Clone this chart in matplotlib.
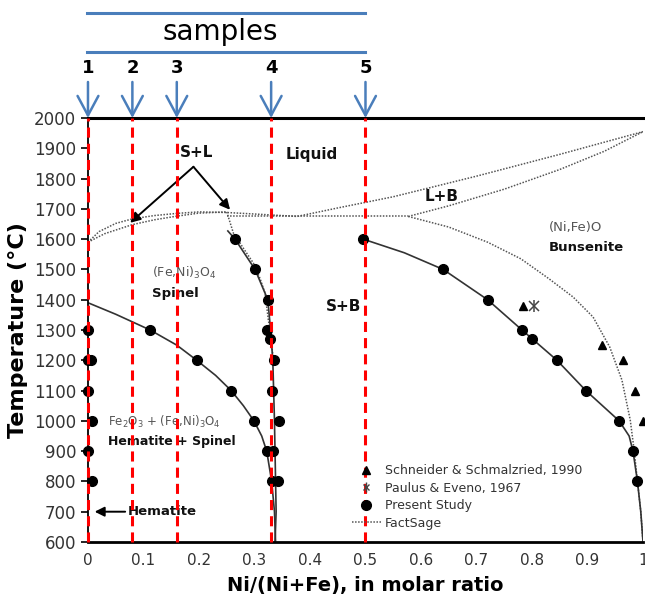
import matplotlib.pyplot as plt
from matplotlib.lines import Line2D

# sample compositions marked above the chart
sample_x = [0.0, 0.08, 0.16, 0.33, 0.5]
sample_labels = ["1", "2", "3", "4", "5"]

# Present Study (circles)
study_x = [0.0, 0.0, 0.006, 0.0, 0.007, 0.0, 0.007,
           0.112, 0.196, 0.258, 0.299, 0.322, 0.331,
           0.265, 0.301, 0.324, 0.322, 0.328, 0.335, 0.331, 0.345, 0.333, 0.343,
           0.496, 0.64, 0.72, 0.782, 0.80, 0.845, 0.897, 0.957, 0.982, 0.99]
study_t = [1300, 1200, 1200, 1100, 1000, 900, 800,
           1300, 1200, 1100, 1000, 900, 800,
           1600, 1500, 1400, 1300, 1270, 1200, 1100, 1000, 900, 800,
           1600, 1500, 1400, 1300, 1270, 1200, 1100, 1000, 900, 800]

# Schneider & Schmalzried, 1990 (triangles)
schn_x = [0.784, 0.926, 0.964, 0.985, 1.0]
schn_t = [1380, 1250, 1200, 1100, 1000]

# Paulus & Eveno, 1967
paul_x = [0.804]
paul_t = [1380]

# solid phase boundaries (present study)
hem_x = [0.0, 0.05, 0.112, 0.16, 0.196, 0.23, 0.258, 0.28, 0.299, 0.313, 0.322, 0.331, 0.336, 0.338]
hem_t = [1390, 1352, 1300, 1250, 1200, 1150, 1100, 1050, 1000, 950, 900, 800, 700, 600]
spn_x = [0.252, 0.265, 0.301, 0.324, 0.329, 0.333, 0.336, 0.338, 0.339, 0.337]
spn_t = [1627, 1600, 1500, 1400, 1300, 1200, 1000, 800, 700, 600]
bun_x = [0.496, 0.57, 0.64, 0.72, 0.782, 0.845, 0.897, 0.957, 0.975, 0.982, 0.99, 0.996, 1.0]
bun_t = [1600, 1555, 1500, 1400, 1300, 1200, 1100, 1000, 950, 900, 800, 700, 600]

# FactSage curves (dotted)
liq_x = [0, 0.02, 0.05, 0.08, 0.12, 0.16, 0.2, 0.25, 0.3, 0.377, 0.45, 0.55, 0.7, 0.85, 1.0]
liq_t = [1590, 1625, 1652, 1667, 1678, 1685, 1690, 1688, 1683, 1675, 1703, 1740, 1808, 1880, 1955]
sol_x = [0, 0.03, 0.08, 0.12, 0.16, 0.2, 0.25]
sol_t = [1590, 1618, 1648, 1664, 1676, 1686, 1690]
svs_x = [0.25, 0.262, 0.28, 0.298, 0.31, 0.319, 0.325, 0.33, 0.334]
svs_t = [1690, 1620, 1570, 1521, 1470, 1422, 1333, 1270, 1200]
eut_x = [0.25, 0.577]
eut_t = [1675, 1675]
bsol_x = [0.577, 0.65, 0.75, 0.85, 0.93, 1.0]
bsol_t = [1675, 1710, 1765, 1830, 1890, 1955]
bsvs_x = [0.577, 0.65, 0.72, 0.78, 0.83, 0.874, 0.91, 0.94, 0.962, 0.977, 0.984, 0.99, 0.996, 1.0]
bsvs_t = [1675, 1640, 1590, 1535, 1470, 1409, 1343, 1244, 1135, 1003, 904, 800, 700, 600]

blue = "#4A7EBB"
dot = dict(color="#555555", lw=1.1, ls=(0, (1, 1)))
solid = dict(color="#333333", lw=1.2)

fig = plt.figure(figsize=(6.45, 6), dpi=100)
ax = fig.add_axes([0.1364, 0.0967, 0.8605, 0.7066])

for xs, ts in [(liq_x, liq_t), (sol_x, sol_t), (svs_x, svs_t), (eut_x, eut_t),
               (bsol_x, bsol_t), (bsvs_x, bsvs_t)]:
    ax.plot(xs, ts, **dot)
for xs, ts in [(hem_x, hem_t), (spn_x, spn_t), (bun_x, bun_t)]:
    ax.plot(xs, ts, **solid)

ax.plot(study_x, study_t, "o", color="black", ms=7, clip_on=False, zorder=3)
ax.plot(schn_x, schn_t, "^", color="black", ms=6, clip_on=False, zorder=3)
ax.plot(paul_x, paul_t, "x", color="#444444", ms=7, mew=1.1, zorder=3)
ax.plot(paul_x, paul_t, "|", color="#444444", ms=9, mew=1.1, zorder=3)

# red dashed sample lines
for x in sample_x:
    ax.plot([x, x], [600, 2000], color="red", lw=2.2, dashes=(3.3, 2.0), zorder=5, clip_on=False)

# samples annotation above the axes
for x, lab in zip(sample_x, sample_labels):
    ax.annotate("", xy=(x, 2000), xytext=(x, 2119),
                arrowprops=dict(arrowstyle="->,head_length=1.4,head_width=0.75", color=blue,
                                lw=1.8, shrinkA=0, shrinkB=0, mutation_scale=10),
                annotation_clip=False, zorder=6)
    ax.text(x, 2165, lab, ha="center", va="center", fontsize=13, fontweight="bold")
ax.plot([-0.002, 0.5], [2218, 2218], color=blue, lw=2.2, clip_on=False)
ax.plot([-0.002, 0.5], [2347, 2347], color=blue, lw=2.2, clip_on=False)
ax.text(0.238, 2284, "samples", ha="center", va="center", fontsize=20)

# region labels
bold = dict(fontweight="bold", color="#111111")
ax.text(0.196, 1885, "S+L", ha="center", va="center", fontsize=11, **bold)
ax.text(0.404, 1878, "Liquid", ha="center", va="center", fontsize=11, **bold)
ax.text(0.638, 1740, "L+B", ha="center", va="center", fontsize=11, **bold)
ax.text(0.46, 1378, "S+B", ha="center", va="center", fontsize=11, **bold)
ax.text(0.83, 1637, "(Ni,Fe)O", ha="left", va="center", fontsize=9.5, color="#555555")
ax.text(0.83, 1574, "Bunsenite", ha="left", va="center", fontsize=9.5, **bold)
ax.text(0.115, 1488, "(Fe,Ni)$_3$O$_4$", ha="left", va="center", fontsize=9, color="#555555")
ax.text(0.115, 1422, "Spinel", ha="left", va="center", fontsize=9.5, **bold)
ax.text(0.036, 997, "Fe$_2$O$_3$ + (Fe,Ni)$_3$O$_4$", ha="left", va="center", fontsize=8.5,
        color="#555555")
ax.text(0.036, 931, "Hematite + Spinel", ha="left", va="center", fontsize=9, **bold)

arr = dict(arrowstyle="-|>,head_length=0.6,head_width=0.3", color="black", lw=1.4,
           shrinkA=0, shrinkB=0)
ax.annotate("", xy=(0.076, 1654), xytext=(0.19, 1839), arrowprops=arr)
ax.annotate("", xy=(0.256, 1697), xytext=(0.19, 1839), arrowprops=arr)
ax.annotate("Hematite", xy=(0.012, 700), xytext=(0.072, 700), fontsize=9.5, va="center",
            arrowprops=arr, **bold)

ax.set_xlim(0, 1)
ax.set_ylim(600, 2000)
ax.set_xticks([0, 0.1, 0.2, 0.3, 0.4, 0.5, 0.6, 0.7, 0.8, 0.9, 1.0])
ax.set_xticklabels(["0", "0.1", "0.2", "0.3", "0.4", "0.5", "0.6", "0.7", "0.8", "0.9", "1"])
ax.set_yticks(range(600, 2001, 100))
ax.tick_params(axis="y", labelsize=12, labelcolor="#333333", length=5, width=1.2)
ax.tick_params(axis="x", labelsize=11, labelcolor="#333333", length=0, pad=8)
ax.spines["right"].set_visible(False)
ax.spines["top"].set_linewidth(2.2)
ax.spines["bottom"].set_linewidth(2.0)
ax.spines["left"].set_linewidth(1.3)
ax.set_xlabel("Ni/(Ni+Fe), in molar ratio", fontsize=14, fontweight="bold", labelpad=6)
ax.set_ylabel("Temperature (°C)", fontsize=16, fontweight="bold", labelpad=4)

star_x = Line2D([], [], marker="x", color="#444444", ls="none", ms=5, mew=1)
star_v = Line2D([], [], marker="|", color="#444444", ls="none", ms=7, mew=1)
handles = [
    Line2D([], [], marker="^", color="black", ls="none", ms=6),
    (star_x, star_v),
    Line2D([], [], marker="o", color="black", ls="none", ms=7),
    Line2D([], [], **dot),
]
labels = ["Schneider & Schmalzried, 1990", "Paulus & Eveno, 1967", "Present Study", "FactSage"]
leg = ax.legend(handles, labels, loc="upper left", bbox_to_anchor=(0.4757, 0.183), frameon=False,
                fontsize=9, handlelength=2.3, handletextpad=0.3, labelspacing=0.35,
                borderpad=0, borderaxespad=0)
for t in leg.get_texts():
    t.set_color("#333333")

fig.savefig("out.png", dpi=100)
